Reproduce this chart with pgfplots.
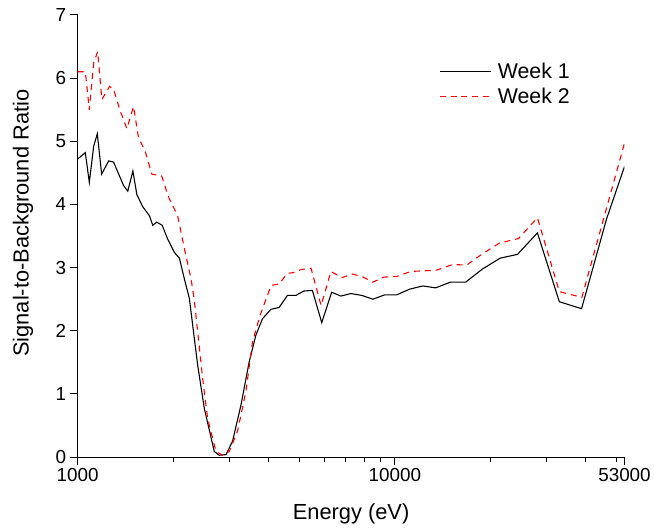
\documentclass[border=0pt]{standalone}
\usepackage{fontspec}
\setmainfont{Liberation Sans}
\usepackage{pgfplots}
\pgfplotsset{compat=1.18}
\begin{document}
\begin{tikzpicture}
\begin{axis}[
  scale only axis,
  width=549bp, height=444bp,
  xmode=log,
  xmin=1000, xmax=53000,
  ymin=0, ymax=7,
  axis lines=left,
  axis line style={-, line width=1.1bp},
  tick align=outside,
  major tick length=8bp,
  minor tick length=5bp,
  tick style={line width=1bp, black},
  xtick={1000,10000,53000},
  xticklabels={1000,10000,53000},
  minor xtick={2000,3000,4000,5000,6000,7000,8000,9000,20000,30000,40000,50000},
  ytick={0,1,2,3,4,5,6,7},
  /pgf/number format/assume math mode=true,
  tick label style={font=\fontsize{19}{21}\selectfont},
  xlabel={Energy (eV)},
  ylabel={Signal-to-Background Ratio},
  every axis x label/.style={at={(axis description cs:0.5,-0.128)}, anchor=center, font=\fontsize{22}{26}\selectfont},
  every axis y label/.style={at={(axis description cs:-0.1,0.529)}, anchor=center, rotate=90, font=\fontsize{22}{26}\selectfont},
  legend style={draw=none, fill=none, at={(0.655,0.90)}, anchor=north west,
    font=\fontsize{21.5}{24}\selectfont, row sep=4bp},
  legend cell align=left,
  legend image code/.code={\draw[#1] (0bp,0bp) -- (52bp,0bp); \path (56bp,0bp);},
]
\addplot[black, line width=1.1bp] coordinates {
(1000,4.72) (1057,4.82) (1088,4.35) (1123,4.92) (1153,5.12) (1190,4.48) (1252,4.69) (1298,4.67) (1395,4.30) (1439,4.21) (1493,4.53) (1536,4.16) (1601,3.97) (1684,3.82) (1725,3.67) (1776,3.72) (1847,3.67) (1923,3.45) (2018,3.24) (2093,3.15) (2170,2.82) (2250,2.51) (2389,1.46) (2508,0.77) (2696,0.09) (2796,0.03) (2935,0.04) (3078,0.25) (3271,0.82) (3474,1.51) (3646,1.93) (3825,2.19) (4066,2.34) (4317,2.37) (4585,2.56) (4872,2.56) (5174,2.63) (5495,2.64) (5883,2.13) (6322,2.61) (6764,2.55) (7271,2.59) (7876,2.56) (8527,2.50) (9301,2.57) (10146,2.57) (11147,2.66) (12248,2.71) (13456,2.68) (14971,2.77) (16726,2.77) (18912,2.98) (21497,3.15) (24370,3.21) (28163,3.55) (33029,2.46) (38814,2.35) (46522,3.77) (53000,4.60)
};
\addlegendentry{Week 1}
\addplot[red, line width=1.1bp, dash pattern=on 6bp off 5bp] coordinates {
(1000,6.10) (1057,6.10) (1088,5.50) (1123,6.24) (1156,6.42) (1192,5.66) (1261,5.87) (1298,5.82) (1362,5.48) (1429,5.20) (1500,5.55) (1555,5.06) (1633,4.84) (1713,4.48) (1841,4.45) (1933,4.12) (2067,3.82) (2170,3.30) (2278,2.82) (2333,2.48) (2477,1.25) (2569,0.61) (2730,0.09) (2863,0.03) (3006,0.09) (3192,0.41) (3392,1.04) (3558,1.82) (3762,2.25) (4075,2.72) (4317,2.74) (4580,2.91) (4778,2.92) (5063,2.97) (5443,2.99) (5854,2.40) (6290,2.94) (6813,2.84) (7324,2.90) (7876,2.86) (8527,2.77) (9235,2.85) (10146,2.86) (11228,2.94) (12427,2.95) (13554,2.96) (15222,3.05) (16848,3.04) (18912,3.22) (21390,3.39) (24547,3.46) (28163,3.79) (33029,2.62) (38900,2.53) (53000,4.97)
};
\addlegendentry{Week 2}
\end{axis}
\useasboundingbox (-78bp,-71bp) rectangle (576bp,459bp);
\end{tikzpicture}
\end{document}
